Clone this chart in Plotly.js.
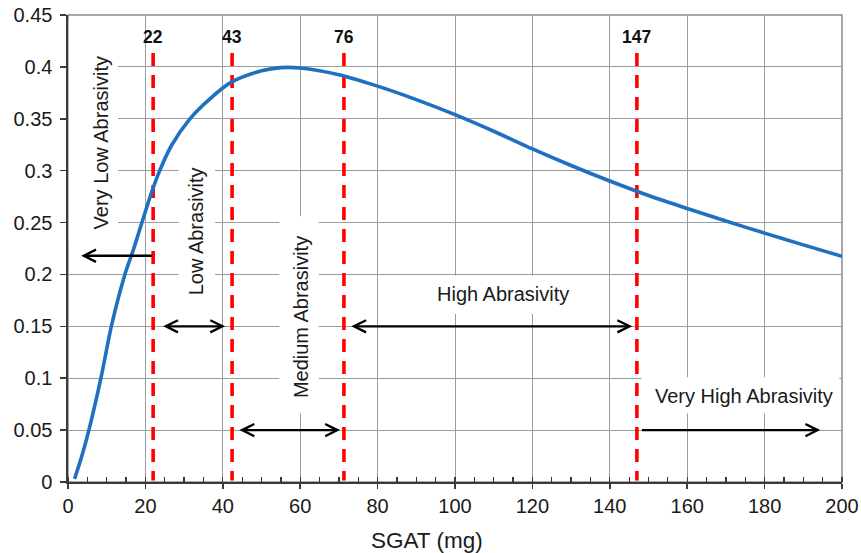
<!DOCTYPE html>
<html>
<head>
<meta charset="utf-8">
<script src="https://cdn.plot.ly/plotly-3.0.1.min.js"></script>
<style>
html,body{margin:0;padding:0;background:#fff;}
#chart{width:861px;height:553px;}
</style>
</head>
<body>
<div id="chart"></div>
<script>
// ---- data ----
var sgat = [1.7, 3.5, 5.4, 8.5, 11.2, 14.7, 17.0, 19.1, 21.6, 23.7, 26.7, 31.5, 36.6, 42.3, 50.0, 55.0, 60.0, 70.0, 80.0, 90.0, 100.0, 110.0, 120.0, 130.0, 140.0, 150.0, 160.0, 170.0, 180.0, 190.0, 200.0];
var density = [0.003, 0.024, 0.050, 0.100, 0.150, 0.200, 0.225, 0.250, 0.279, 0.300, 0.324, 0.350, 0.369, 0.3855, 0.3963, 0.3993, 0.3990, 0.3925, 0.3815, 0.3685, 0.3540, 0.3380, 0.3210, 0.3050, 0.2900, 0.2760, 0.2635, 0.2515, 0.2398, 0.2285, 0.2175];

var thresholdPos = [22, 42.4, 71.3, 147];
var thresholdLabels = ['22', '43', '76', '147'];

var classNames = ['Very Low Abrasivity', 'Low Abrasivity', 'Medium Abrasivity', 'High Abrasivity', 'Very High Abrasivity'];

var yTickVals = [0, 0.05, 0.1, 0.15, 0.2, 0.25, 0.3, 0.35, 0.4, 0.45];
var yTickText = ['0', '0.05', '0.1', '0.15', '0.2', '0.25', '0.3', '0.35', '0.4', '0.45'];
var xTickVals = [0, 20, 40, 60, 80, 100, 120, 140, 160, 180, 200];
var xTickText = ['0', '20', '40', '60', '80', '100', '120', '140', '160', '180', '200'];
var xTitle = 'SGAT (mg)';

// ---- figure ----
var FONT = 'Liberation Sans, Arial, sans-serif';

var trace = {
  x: sgat, y: density, type: 'scatter', mode: 'lines',
  line: {color: 'rgb(31,112,193)', width: 3.6, shape: 'spline', smoothing: 0.8},
  hoverinfo: 'skip', showlegend: false
};

var shapes = [];
// white label boxes masking the grid (between grid and traces)
var boxes = [
  [0.2, 12.9, 0.233, 0.445],
  [28.6, 38.0, 0.172, 0.312],
  [54.6, 64.8, 0.066, 0.256],
  [92.5, 133.0, 0.162, 0.199],
  [148.2, 199.3, 0.066, 0.101]
];
boxes.forEach(function(b){
  shapes.push({type:'rect', xref:'x', yref:'y', x0:b[0], x1:b[1], y0:b[2], y1:b[3],
    fillcolor:'#ffffff', line:{width:0}, layer:'between'});
});
// plot frame
shapes.push({type:'rect', xref:'paper', yref:'paper', x0:0, x1:1, y0:0, y1:1,
  line:{color:'#8a8a8a', width:1.5}, layer:'between'});
// threshold dashed lines
thresholdPos.forEach(function(v){
  shapes.push({type:'line', xref:'x', yref:'y', x0:v, x1:v, y0:0.4135, y1:0.0015,
    line:{color:'#ff0000', width:3.6, dash:'13px,9px'}, layer:'between'});
});

var annotations = [];
thresholdPos.forEach(function(v, i){
  annotations.push({x:v, y:0.4285, xref:'x', yref:'y', text:'<b>'+thresholdLabels[i]+'</b>',
    showarrow:false, font:{family:FONT, size:17.5, color:'#111'}});
});

function label(txt, x, y, angle){
  annotations.push({x:x, y:y, xref:'x', yref:'y', text:txt, showarrow:false,
    textangle:angle, font:{family:FONT, size:20, color:'#1a1a1a'}});
}
label(classNames[0], 8.6, 0.3265, -90);
label(classNames[1], 33.3, 0.2415, -90);
label(classNames[2], 60.1, 0.1585, -90);
label(classNames[3], 112.3, 0.1815, 0);
label(classNames[4], 174.6, 0.0825, 0);

// axis title placed like the reference (left of centre)
annotations.push({x:0.464, y:0, xref:'paper', yref:'paper', yanchor:'middle', yshift:-58,
  text:xTitle, showarrow:false, font:{family:FONT, size:22.5, color:'#1a1a1a'}});

function arrow(xTail, xHead, y, both){
  annotations.push({x:xHead, y:y, ax:xTail, ay:y, xref:'x', yref:'y', axref:'x', ayref:'y',
    text:'', showarrow:true, arrowhead:5, startarrowhead:5, arrowside: both ? 'end+start' : 'end',
    arrowsize:1, startarrowsize:1, arrowwidth:2.4, arrowcolor:'#000', standoff:0, startstandoff:0});
}
arrow(22.0, 3.4, 0.218, false);
arrow(24.2, 40.6, 0.15, true);
arrow(43.9, 70.3, 0.05, true);
arrow(72.8, 145.8, 0.15, true);
arrow(147.9, 194.4, 0.05, false);

var layout = {
  width: 861, height: 553,
  margin: {l: 68, r: 19, t: 15, b: 71},
  paper_bgcolor: '#fff', plot_bgcolor: '#fff',
  font: {family: FONT, size: 20, color: '#1a1a1a'},
  showlegend: false,
  xaxis: {
    range: [0, 200], tickvals: xTickVals, ticktext: xTickText,
    showgrid: true, gridcolor: '#9c9c9c', gridwidth: 1, zeroline: false,
    showline: true, linecolor: '#3a3a3a', linewidth: 1.6,
    ticks: 'outside', ticklen: 5, tickwidth: 1.5, tickcolor: '#3a3a3a',
    minor: {dtick: 5, ticks: 'inside', ticklen: 5, tickwidth: 1.3, tickcolor: '#3a3a3a', showgrid: false},
    tickfont: {family: FONT, size: 20, color: '#1a1a1a'},
    fixedrange: true
  },
  yaxis: {
    range: [0, 0.45], tickvals: yTickVals, ticktext: yTickText,
    showgrid: true, gridcolor: '#9c9c9c', gridwidth: 1, zeroline: false,
    showline: true, linecolor: '#3a3a3a', linewidth: 1.6,
    ticks: 'outside', ticklen: 6, tickwidth: 1.5, tickcolor: '#3a3a3a',
    tickfont: {family: FONT, size: 20, color: '#1a1a1a'},
    ticklabelstandoff: 4,
    fixedrange: true
  },
  shapes: shapes,
  annotations: annotations
};

Plotly.newPlot('chart', [trace], layout, {displayModeBar: false, staticPlot: true});
</script>
</body>
</html>
